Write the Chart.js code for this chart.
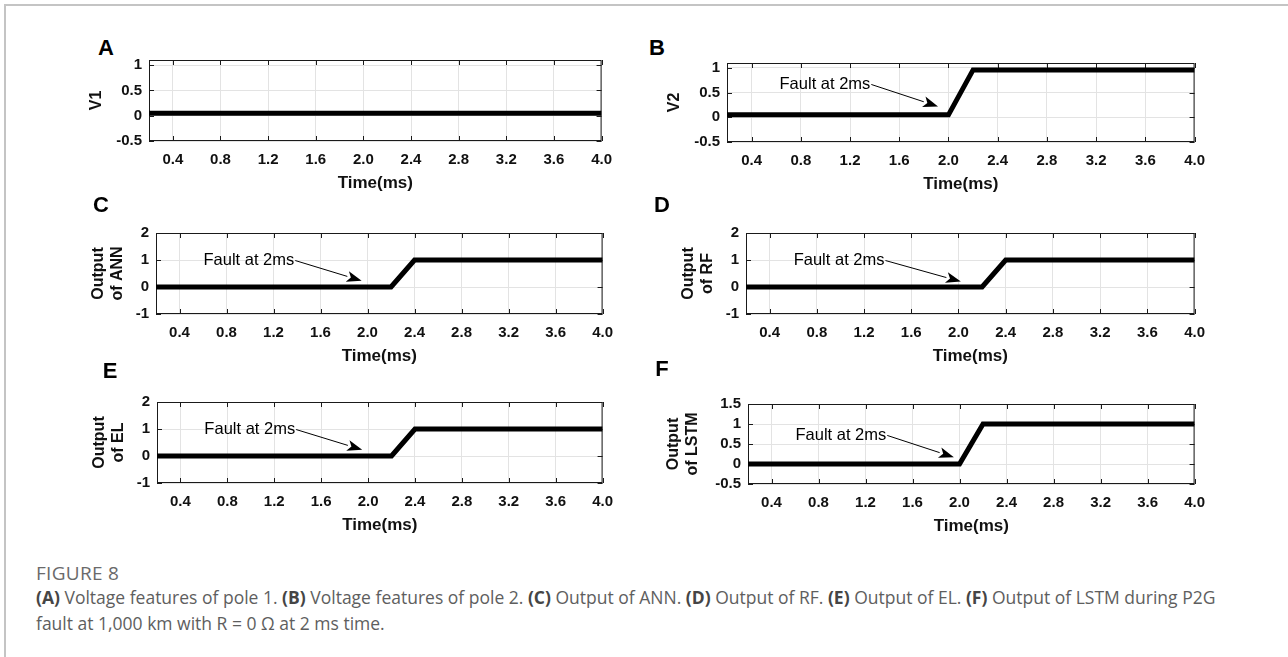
<!DOCTYPE html>
<html>
<head>
<meta charset="utf-8">
<script src="https://cdn.jsdelivr.net/npm/chart.js@4.4.1/dist/chart.umd.min.js"></script>
<style>
  html, body { margin: 0; padding: 0; background: #fff; }
  body { width: 1288px; height: 657px; position: relative; overflow: hidden; font-family: "Liberation Sans", Arial, sans-serif; }
  .frame { position: absolute; left: 4px; top: 4px; right: -10px; bottom: -10px; border-top: 2px solid #c4c4c4; border-left: 2px solid #c4c4c4; }
  .panel { position: absolute; }
  .letter { position: absolute; font: bold 22px "Liberation Sans", Arial, sans-serif; color: #000; transform: translate(-50%, -50%); }
  .figlabel { position: absolute; left: 36px; top: 560px; font: 19px/26px "Open Sans", sans-serif; letter-spacing: 0.3px; color: #6a6a6a; }
  .caption { position: absolute; left: 36px; top: 584px; width: 1240px; font: 17.5px/26px "Open Sans", sans-serif; color: #5e5e5e; white-space: nowrap; }
  .caption b { color: #454545; }
</style>
</head>
<body>
<div class="frame"></div>
<div class="figlabel">FIGURE 8</div>
<div class="caption"><b>(A)</b> Voltage features of pole 1. <b>(B)</b> Voltage features of pole 2. <b>(C)</b> Output of ANN. <b>(D)</b> Output of RF. <b>(E)</b> Output of EL. <b>(F)</b> Output of LSTM during P2G<br>fault at 1,000 km with R = 0 Ω at 2 ms time.</div>

<script>
// x axis (shared by all six panels)
const xTicks = [0.4, 0.8, 1.2, 1.6, 2.0, 2.4, 2.8, 3.2, 3.6, 4.0];
const xTickLabels = ['0.4', '0.8', '1.2', '1.6', '2.0', '2.4', '2.8', '3.2', '3.6', '4.0'];

// y axis ticks
const voltTicks = [-0.5, 0, 0.5, 1];
const voltTickLabels = ['-0.5', '0', '0.5', '1'];
const outTicks = [-1, 0, 1, 2];
const outTickLabels = ['-1', '0', '1', '2'];
const lstmTicks = [-0.5, 0, 0.5, 1, 1.5];
const lstmTickLabels = ['-0.5', '0', '0.5', '1', '1.5'];

// series (time in ms)
const timeV1 = [0.2, 4.0];
const v1 = [0.05, 0.05];
const timeV2 = [0.2, 2.0, 2.2, 4.0];
const v2 = [0.05, 0.05, 0.96, 0.96];
const timeAnn = [0.2, 2.2, 2.4, 4.0];
const annOut = [0, 0, 1, 1];
const timeRf = [0.2, 2.2, 2.4, 4.0];
const rfOut = [0, 0, 1, 1];
const timeEl = [0.2, 2.2, 2.4, 4.0];
const elOut = [0, 0, 1, 1];
const timeLstm = [0.2, 2.0, 2.2, 4.0];
const lstmOut = [0, 0, 1, 1];

const faultText = 'Fault at 2ms';

const FONT = '"Liberation Sans", Arial, sans-serif';
const Y_AXIS_W = 92, PAD_TOP = 12, PAD_RIGHT = 16, X_AXIS_H = 56;

// box + inward ticks on all four sides, matlab style
const matlabBox = {
  id: 'matlabBox',
  beforeDatasetsDraw(chart) {
    const { ctx, chartArea: a, scales: { x, y } } = chart;
    ctx.save();
    ctx.strokeStyle = '#1a1a1a';
    ctx.lineWidth = 1;
    ctx.strokeRect(a.left + 0.5, a.top + 0.5, a.right - a.left - 1, a.bottom - a.top - 1);
    const tl = 5;
    ctx.beginPath();
    x.ticks.forEach(t => {
      const px = Math.round(x.getPixelForValue(t.value)) + 0.5;
      ctx.moveTo(px, a.bottom); ctx.lineTo(px, a.bottom - tl);
      ctx.moveTo(px, a.top); ctx.lineTo(px, a.top + tl);
    });
    y.ticks.forEach(t => {
      const py = Math.round(y.getPixelForValue(t.value)) + 0.5;
      ctx.moveTo(a.left, py); ctx.lineTo(a.left + tl, py);
      ctx.moveTo(a.right, py); ctx.lineTo(a.right - tl, py);
    });
    ctx.stroke();
    ctx.restore();
  }
};

// "Fault at 2ms" text with arrow, anchored in data coordinates
const faultArrow = {
  id: 'faultArrow',
  afterDatasetsDraw(chart, args, opts) {
    if (!opts || !opts.text) return;
    const { ctx, scales: { x, y } } = chart;
    const tx = x.getPixelForValue(opts.x), ty = y.getPixelForValue(opts.y);
    ctx.save();
    ctx.font = '16.5px ' + FONT;
    ctx.fillStyle = '#000';
    ctx.textBaseline = 'middle';
    ctx.fillText(opts.text, tx, ty);
    const sx = tx + ctx.measureText(opts.text).width + 1;
    const sy = ty;
    const ex = x.getPixelForValue(opts.tipX), ey = y.getPixelForValue(opts.tipY);
    const ang = Math.atan2(ey - sy, ex - sx);
    const hl = 15, hw = 5.5;
    const bx = ex - hl * Math.cos(ang), by = ey - hl * Math.sin(ang);
    ctx.strokeStyle = '#000';
    ctx.lineWidth = 1;
    ctx.beginPath();
    ctx.moveTo(sx, sy);
    ctx.lineTo(bx, by);
    ctx.stroke();
    ctx.beginPath();
    ctx.moveTo(ex, ey);
    ctx.lineTo(bx + hw * Math.sin(ang), by - hw * Math.cos(ang));
    ctx.lineTo(ex - hl * 0.75 * Math.cos(ang), ey - hl * 0.75 * Math.sin(ang));
    ctx.lineTo(bx - hw * Math.sin(ang), by + hw * Math.cos(ang));
    ctx.closePath();
    ctx.fill();
    ctx.restore();
  }
};

const panels = [
  { letter: 'A', letterPos: [106, 48], box: [149, 56, 457, 85], times: timeV1, values: v1,
    yMin: -0.5, yMax: 1.1, yTicks: voltTicks, yTickLabels: voltTickLabels, yTitle: 'V1', yTitlePad: 30, note: false },
  { letter: 'B', letterPos: [657, 48], box: [727, 59, 472, 83], times: timeV2, values: v2,
    yMin: -0.5, yMax: 1.1, yTicks: voltTicks, yTickLabels: voltTickLabels, yTitle: 'V2', yTitlePad: 30,
    note: { text: faultText, x: 0.627, y: 0.665, tipX: 1.915, tipY: 0.22 } },
  { letter: 'C', letterPos: [101, 205], box: [156, 229, 451, 85], times: timeAnn, values: annOut,
    yMin: -1, yMax: 2, yTicks: outTicks, yTickLabels: outTickLabels, yTitle: ['Output', 'of ANN'], yTitlePad: 25,
    note: { text: faultText, x: 0.604, y: 0.98, tipX: 1.95, tipY: 0.23 } },
  { letter: 'D', letterPos: [662, 205], box: [746, 229, 453, 85], times: timeRf, values: rfOut,
    yMin: -1, yMax: 2, yTicks: outTicks, yTickLabels: outTickLabels, yTitle: ['Output', 'of RF'], yTitlePad: 25,
    note: { text: faultText, x: 0.604, y: 0.98, tipX: 2.02, tipY: 0.2 } },
  { letter: 'E', letterPos: [110, 371], box: [157, 398, 450, 85], times: timeEl, values: elOut,
    yMin: -1, yMax: 2, yTicks: outTicks, yTickLabels: outTickLabels, yTitle: ['Output', 'of EL'], yTitlePad: 25,
    note: { text: faultText, x: 0.604, y: 0.98, tipX: 1.95, tipY: 0.23 } },
  { letter: 'F', letterPos: [662, 369], box: [748, 400, 451, 84], times: timeLstm, values: lstmOut,
    yMin: -0.5, yMax: 1.5, yTicks: lstmTicks, yTickLabels: lstmTickLabels, yTitle: ['Output', 'of LSTM'], yTitlePad: 8,
    note: { text: faultText, x: 0.604, y: 0.714, tipX: 1.952, tipY: 0.167 } }
];

function makePanel(p) {
  const [bl, bt, bw, bh] = p.box;
  const w = Y_AXIS_W + bw + PAD_RIGHT;
  const h = PAD_TOP + bh + X_AXIS_H;

  const lt = document.createElement('div');
  lt.className = 'letter';
  lt.textContent = p.letter;
  lt.style.left = p.letterPos[0] + 'px';
  lt.style.top = p.letterPos[1] + 'px';
  document.body.appendChild(lt);

  const wrap = document.createElement('div');
  wrap.className = 'panel';
  wrap.style.left = (bl - Y_AXIS_W) + 'px';
  wrap.style.top = (bt - PAD_TOP) + 'px';
  const cv = document.createElement('canvas');
  cv.width = w; cv.height = h;
  cv.style.width = w + 'px'; cv.style.height = h + 'px';
  wrap.appendChild(cv);
  document.body.appendChild(wrap);

  new Chart(cv, {
    type: 'line',
    data: {
      datasets: [{
        data: p.times.map((t, i) => ({ x: t, y: p.values[i] })),
        borderColor: '#000',
        borderWidth: 5,
        pointRadius: 0,
        tension: 0,
        fill: false,
        borderJoinStyle: 'miter',
        borderCapStyle: 'butt'
      }]
    },
    options: {
      responsive: false,
      animation: false,
      events: [],
      layout: { padding: { top: PAD_TOP, right: PAD_RIGHT, left: 0, bottom: 0 } },
      plugins: {
        legend: { display: false },
        tooltip: { enabled: false },
        faultArrow: p.note
      },
      scales: {
        x: {
          type: 'linear',
          min: 0.2,
          max: 4.0,
          afterBuildTicks: s => { s.ticks = xTicks.map(v => ({ value: v })); },
          afterFit: s => { s.height = X_AXIS_H; },
          ticks: {
            callback: (v, i) => xTickLabels[i],
            font: { family: FONT, size: 15, weight: 'bold' },
            color: '#111',
            padding: 10,
            maxRotation: 0,
            autoSkip: false
          },
          grid: { color: '#e3e3e3', drawTicks: false },
          border: { display: false },
          title: {
            display: true,
            text: 'Time(ms)',
            font: { family: FONT, size: 17, weight: 'bold' },
            color: '#111',
            padding: { top: 0, bottom: 3 }
          }
        },
        y: {
          min: p.yMin,
          max: p.yMax,
          afterBuildTicks: s => { s.ticks = p.yTicks.map(v => ({ value: v })); },
          afterFit: s => { s.width = Y_AXIS_W; },
          ticks: {
            callback: (v, i) => p.yTickLabels[i],
            font: { family: FONT, size: 15, weight: 'bold' },
            color: '#111',
            padding: 7,
            autoSkip: false
          },
          grid: { color: '#e3e3e3', drawTicks: false },
          border: { display: false },
          title: {
            display: true,
            text: p.yTitle,
            font: { family: FONT, size: 16, weight: 'bold', lineHeight: 1.2 },
            color: '#111',
            padding: { top: p.yTitlePad, bottom: 0 }
          }
        }
      }
    },
    plugins: [matlabBox, faultArrow]
  });
}

panels.forEach(makePanel);
</script>
</body>
</html>
